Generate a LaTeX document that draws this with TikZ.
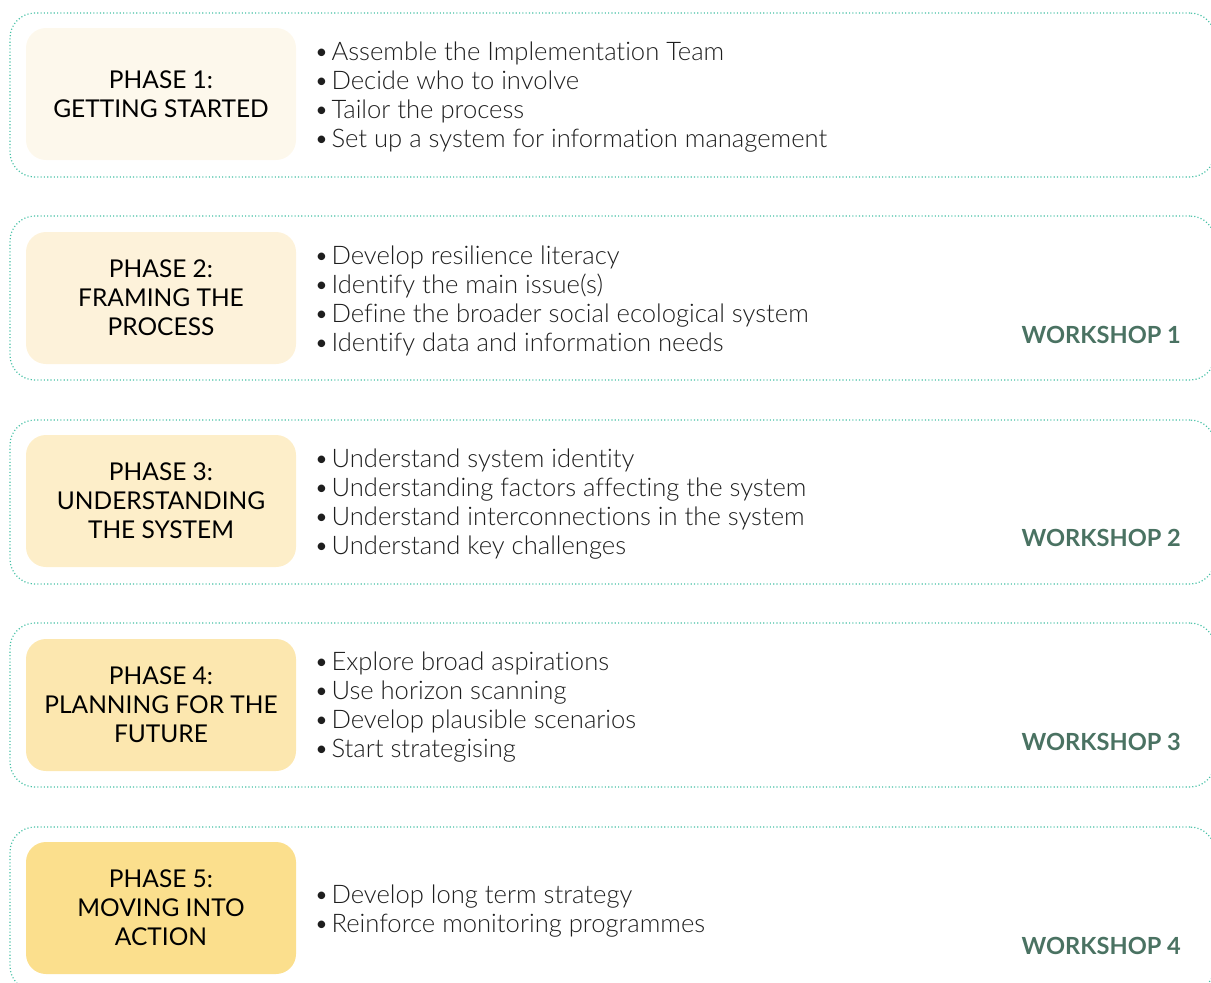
\documentclass[tikz,border=0pt]{standalone}
\usepackage{fontspec}
\setmainfont{Lato}
\newfontfamily\lightfont[Ligatures=NoCommon]{Lato Light}
\newcommand\bul{•\hspace{2.5pt}}
\definecolor{dotteal}{HTML}{45C0A5}
\definecolor{wsgreen}{HTML}{4A7262}
\definecolor{txtdark}{HTML}{1E1E1E}
\definecolor{ph1}{HTML}{FDF8EC}
\definecolor{ph2}{HTML}{FDF2DA}
\definecolor{ph3}{HTML}{FDEEC9}
\definecolor{ph4}{HTML}{FCE7AF}
\definecolor{ph5}{HTML}{FBDF8D}
\tikzset{
  panel/.style={draw=dotteal, line width=1.2pt, dash pattern=on 1.1pt off 2.2pt,
    rounded corners=25pt, minimum width=1205pt, minimum height=164pt, inner sep=0pt},
  phasebox/.style={fill=#1, rounded corners=20pt, minimum width=270pt, minimum height=132pt,
    inner sep=0pt, align=center, text=black, font=\fontsize{24.5}{29}\selectfont},
  items/.style={anchor=west, inner sep=0pt, align=left, text=txtdark,
    font=\lightfont\fontsize{25.6}{29}\selectfont},
  workshop/.style={anchor=east, inner sep=0pt, text=wsgreen,
    font=\bfseries\fontsize{23.6}{28}\selectfont}
}
\begin{document}
\begin{tikzpicture}[x=1pt,y=-1pt]
\useasboundingbox (0,0) rectangle (1211,983);
\clip (0,0) rectangle (1211,983);

% panels
\node[panel] (p1) at (612.5,95) {};
\node[panel] (p2) at (612.5,298) {};
\node[panel] (p3) at (612.5,502) {};
\node[panel] (p4) at (612.5,705) {};
\node[panel] (p5) at (612.5,909) {};

% phase boxes
\node[phasebox=ph1] (b1) at (161,94) {PHASE 1:\\GETTING STARTED};
\node[phasebox=ph2] (b2) at (161,298) {PHASE 2:\\FRAMING THE\\PROCESS};
\node[phasebox=ph3] (b3) at (161,501) {PHASE 3:\\UNDERSTANDING\\THE SYSTEM};
\node[phasebox=ph4] (b4) at (161,705) {PHASE 4:\\PLANNING FOR THE\\FUTURE};
\node[phasebox=ph5] (b5) at (161,908) {PHASE 5:\\MOVING INTO\\ACTION};

% bullet lists
\node[items] (l1) at (314,97.5) {\bul Assemble the Implementation Team\\\bul Decide who to involve\\\bul Tailor the process\\\bul Set up a system for information management};
\node[items] (l2) at (314,300.5) {\bul Develop resilience literacy\\\bul Identify the main issue(s)\\\bul Define the broader social ecological system\\\bul Identify data and information needs};
\node[items] (l3) at (314,504.5) {\bul Understand system identity\\\bul Understanding factors affecting the system\\\bul Understand interconnections in the system\\\bul Understand key challenges};
\node[items] (l4) at (314,707.5) {\bul Explore broad aspirations\\\bul Use horizon scanning\\\bul Develop plausible scenarios\\\bul Start strategising};
\node[items] (l5) at (314,911.5) {\bul Develop long term strategy\\\bul Reinforce monitoring programmes};

% workshops
\node[workshop] (w1) at (1181,335) {WORKSHOP 1};
\node[workshop] (w2) at (1181,538) {WORKSHOP 2};
\node[workshop] (w3) at (1181,742) {WORKSHOP 3};
\node[workshop] (w4) at (1181,946) {WORKSHOP 4};
\end{tikzpicture}
\end{document}
